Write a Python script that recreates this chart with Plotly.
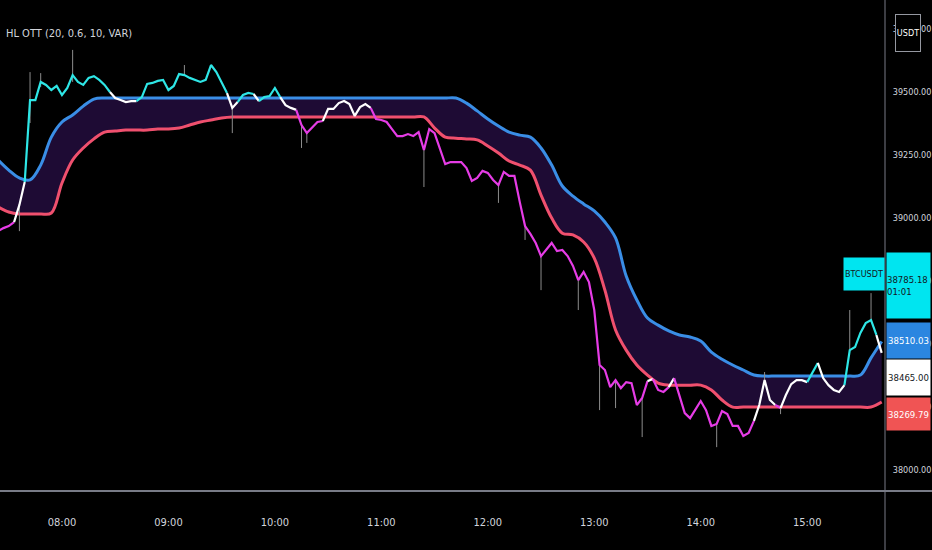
import numpy as np
import pandas as pd
import plotly.graph_objects as go

title = 'HL OTT (20, 0.6, 10, VAR)'
symbol = 'BTCUSDT'
symbol_price = 38785.18
countdown = '01:01'
quote = 'USDT'

# 3-minute closes, 07:24 .. 15:42
bar_start = '2022-01-20 07:24'
closes = [
    38948, 38960, 38968, 38984, 39052, 39143, 39468, 39468, 39540, 39528,
    39508, 39524, 39488, 39516, 39567, 39540, 39528, 39556, 39563, 39548,
    39528, 39500, 39476, 39468, 39460, 39464, 39464, 39480, 39532, 39536,
    39544, 39548, 39508, 39524, 39571, 39567, 39556, 39548, 39540, 39548,
    39607, 39579, 39540, 39496, 39437, 39460, 39488, 39496, 39492, 39464,
    39480, 39484, 39516, 39480, 39448, 39437, 39429, 39369, 39337, 39361,
    39381, 39385, 39433, 39433, 39456, 39464, 39452, 39405, 39440, 39452,
    39437, 39393, 39389, 39381, 39353, 39325, 39325, 39333, 39325, 39341,
    39270, 39353, 39337, 39278, 39214, 39222, 39222, 39222, 39198, 39147,
    39159, 39187, 39179, 39151, 39131, 39183, 39167, 39167, 39064, 38968,
    38937, 38901, 38849, 38877, 38901, 38869, 38873, 38849, 38810, 38754,
    38786, 38746, 38635, 38417, 38397, 38329, 38357, 38325, 38349, 38345,
    38258, 38286, 38353, 38361, 38318, 38310, 38329, 38365, 38298, 38226,
    38206, 38238, 38274, 38238, 38175, 38183, 38234, 38222, 38175, 38175,
    38135, 38147, 38195, 38258, 38357, 38278, 38258, 38246, 38298, 38341,
    38357, 38357, 38349, 38389, 38425, 38365, 38337, 38318, 38310, 38337,
    38476, 38488, 38544, 38583, 38595, 38536, 38465,
]

# long shadows
wick_bars = [4, 6, 8, 14, 35, 44, 57, 58, 80, 94, 99, 102, 109, 113, 116, 121, 135, 144, 147, 160, 164]
wick_lows = [38948, 39377, 39520, 39540, 39567, 39337, 39278, 39298, 39123, 39060, 38913,
             38714, 38635, 38238, 38246, 38131, 38091, 38357, 38222, 38476, 38595]
wick_highs = [39052, 39579, 39575, 39667, 39607, 39437, 39369, 39337, 39270, 39131, 38968,
              38849, 38754, 38417, 38357, 38286, 38183, 38389, 38246, 38635, 38702]

# HL OTT bands, 6-minute steps
band_start = '2022-01-20 07:24'
upper_band = [
    39230, 39190, 39159, 39151, 39210, 39321, 39381, 39409, 39444, 39472,
] + [39476] * 34 + [
    39456, 39425, 39393, 39365, 39341, 39329, 39321, 39278, 39210, 39127,
    39087, 39056, 39028, 38984, 38921, 38770, 38675, 38603, 38575, 38552,
    38536, 38528, 38512, 38468, 38440, 38417, 38397, 38377,
] + [38373] * 9 + [38377, 38445, 38510.03]

lower_band = [
    39044, 39024, 39016, 39016, 39016, 39020, 39139, 39230, 39278, 39314,
    39341, 39345, 39349, 39349, 39349, 39353, 39353, 39357, 39369, 39381,
    39389, 39397, 39401,
] + [39401] * 18 + [
    39357, 39321, 39317, 39314, 39310, 39286, 39258, 39226, 39210, 39190,
    39091, 39000, 38940, 38933, 38905, 38841, 38714, 38556, 38476, 38417,
    38377, 38345,
] + [38337] * 4 + [38318, 38278, 38250] + [38250] * 13 + [38269.79]

bar_times = pd.date_range(bar_start, periods=len(closes), freq='3min')
band_times = pd.date_range(band_start, periods=len(upper_band), freq='6min')

CYAN = '#2ee6e6'
WHITE = '#ffffff'
MAGENTA = '#e63ce6'
BLUE = '#3a8ee6'
RED = '#f0506e'
FILL = 'rgb(30,11,52)'
WICK = '#8c8c8c'
TXT = '#d1d4dc'
AXIS = '#787b86'
FONT = 'Liberation Sans Narrow, DejaVu Sans Condensed, Roboto Condensed, sans-serif'

c = np.array(closes, dtype=float)
tb = bar_times.asi8.astype(float)
up_at = np.interp(tb, band_times.asi8.astype(float), upper_band)
lo_at = np.interp(tb, band_times.asi8.astype(float), lower_band)
state = np.where(c > up_at, CYAN, np.where(c < lo_at, MAGENTA, WHITE))

fig = go.Figure()

# band fill
fig.add_trace(go.Scatter(x=band_times, y=lower_band, mode='lines', line=dict(width=0, shape='spline'),
                         hoverinfo='skip', showlegend=False))
fig.add_trace(go.Scatter(x=band_times, y=upper_band, mode='lines', line=dict(width=0, shape='spline'),
                         fill='tonexty', fillcolor=FILL, hoverinfo='skip', showlegend=False))

# band lines
fig.add_trace(go.Scatter(x=band_times, y=lower_band, mode='lines',
                         line=dict(color=RED, width=3, shape='spline'), showlegend=False))
fig.add_trace(go.Scatter(x=band_times, y=upper_band, mode='lines',
                         line=dict(color=BLUE, width=3, shape='spline'), showlegend=False))

# wicks
wx, wy = [], []
for i, lo, hi in zip(wick_bars, wick_lows, wick_highs):
    wx += [bar_times[i], bar_times[i], None]
    wy += [lo, hi, None]
fig.add_trace(go.Scatter(x=wx, y=wy, mode='lines', line=dict(color=WICK, width=1),
                         hoverinfo='skip', showlegend=False))

# price, coloured by position relative to the bands
runs = []
for k in range(1, len(c)):
    col = state[k]
    if runs and runs[-1][0] == col:
        runs[-1][1].append(k)
    else:
        runs.append((col, [k - 1, k]))
for col, idx in runs:
    fig.add_trace(go.Scatter(x=bar_times[idx], y=c[idx], mode='lines',
                             line=dict(color=col, width=2.2), showlegend=False))

ph = 491.0
def py(px):
    return 1 - px / ph

ann = [
    dict(text=title, x=0.006, y=py(34), xanchor='left', yanchor='middle',
         font=dict(size=11, color=TXT)),
    dict(text=symbol, x=1, xshift=-21, y=py(274), xanchor='center', yanchor='middle',
         width=40, height=32, bgcolor='#00e5f0', font=dict(size=9, color='#131722')),
    dict(text='%.2f<br>%s' % (symbol_price, countdown), x=1, xshift=1, y=py(285.5),
         xanchor='left', yanchor='middle', width=43, height=65, align='left',
         bgcolor='#00e5f0', font=dict(size=9.5, color='#131722')),
    dict(text='%.2f' % upper_band[-1], x=1, xshift=1, y=py(340), xanchor='left', yanchor='middle',
         width=43, height=35, bgcolor='#2b86e0', font=dict(size=9.5, color='#ffffff')),
    dict(text='%.2f' % closes[-1], x=1, xshift=1, y=py(377.5), xanchor='left', yanchor='middle',
         width=43, height=35, bgcolor='#ffffff', font=dict(size=9.5, color='#131722')),
    dict(text='%.2f' % lower_band[-1], x=1, xshift=1, y=py(414), xanchor='left', yanchor='middle',
         width=43, height=32, bgcolor='#f05454', font=dict(size=9.5, color='#ffffff')),
    dict(text=quote, x=1, xshift=23, y=py(32.5), xanchor='center', yanchor='middle',
         width=24, height=36, bgcolor='#000000', bordercolor='#9598a1', borderwidth=1,
         font=dict(size=9, color='#ffffff')),
]
for a in ann:
    a.update(xref='paper', yref='paper', showarrow=False, borderpad=0)

fig.update_layout(
    width=932, height=550,
    margin=dict(l=0, r=47, t=0, b=59),
    paper_bgcolor='#000000', plot_bgcolor='#000000',
    font=dict(family=FONT, color=TXT, size=10),
    annotations=ann,
    shapes=[
        dict(type='line', xref='paper', yref='paper', x0=0, x1=932 / 885, y0=0, y1=0,
             line=dict(color=AXIS, width=2)),
        dict(type='line', xref='paper', yref='paper', x0=1, x1=1, y0=-59 / ph, y1=1,
             line=dict(color=AXIS, width=1)),
    ],
    xaxis=dict(type='date', range=['2022-01-20 07:25:04', '2022-01-20 15:43:52'],
               tick0='2022-01-20 08:00', dtick=3600000, tickformat='%H:%M',
               showgrid=False, zeroline=False, showline=False, automargin=False,
               ticks='outside', ticklen=21, tickcolor='rgba(0,0,0,0)',
               tickfont=dict(size=11, color=TXT)),
    yaxis=dict(side='right', range=[37917, 39865],
               tickvals=[38000, 38250, 38500, 38750, 39000, 39250, 39500, 39750],
               tickformat='.2f', showgrid=False, zeroline=False, showline=False, automargin=False,
               ticks='outside', ticklen=5, tickcolor='rgba(0,0,0,0)',
               tickfont=dict(size=9, color=TXT)),
)

fig.write_html("out.html", config={'displayModeBar': False},
               post_script="document.body.style.margin='0';")
